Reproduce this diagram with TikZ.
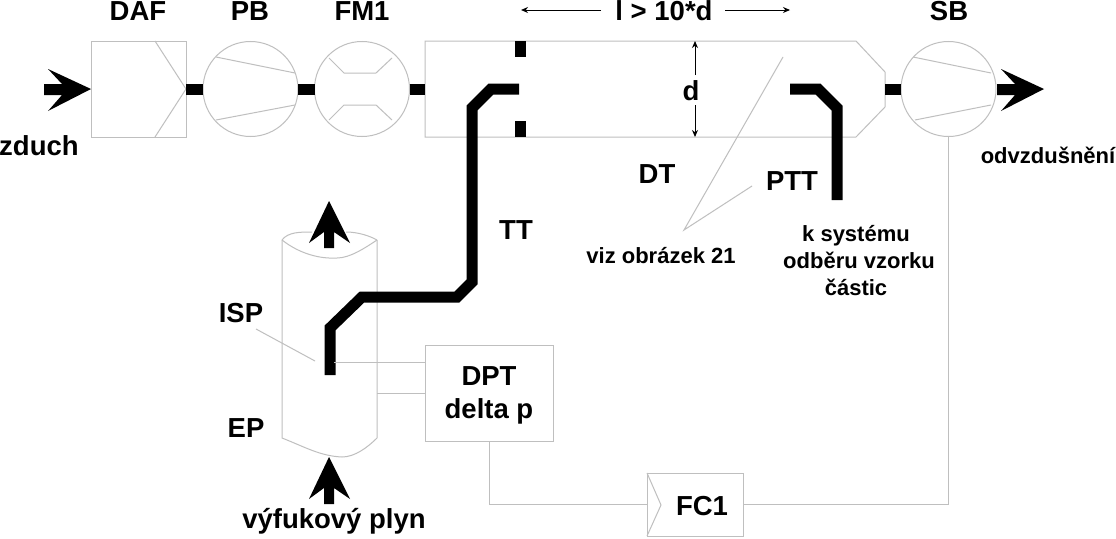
\documentclass[tikz,border=0pt]{standalone}
\usepackage{fontspec}
\setmainfont{Liberation Sans}
\tikzset{
  x=1pt,y=-1pt,
  thin gray/.style={draw=black!25,line width=1pt},
  unitbox/.style={thin gray,rectangle,inner sep=0,outer sep=0},
  blower/.style={thin gray,circle,inner sep=0,outer sep=0,minimum size=95pt},
  stub/.style={line width=11pt,black},
  pipe/.style={line width=11pt,black,line join=miter},
  flow/.style={fill=black,draw=none},
  lab/.style={anchor=base,inner sep=0,font=\bfseries\fontsize{27.5}{27.5}\selectfont},
  smalllab/.style={anchor=base,inner sep=0,font=\bfseries\fontsize{22}{22}\selectfont},
  dim/.style={line width=1pt,black,-{Stealth[length=7pt,width=6pt]}},
}
\usetikzlibrary{arrows.meta}
\begin{document}
\begin{tikzpicture}
\useasboundingbox (0,0) rectangle (1116,538);
\fill[white] (0,0) rectangle (1116,538);

% main line of units
\node[unitbox,minimum width=95pt,minimum height=96pt] (daf) at (138.5,89) {};
\node[blower] (pb) at (250.5,89) {};
\node[blower] (fm) at (362,89) {};
\node[blower] (sb) at (948.5,89) {};

% dilution tunnel outline with tapered outlet
\coordinate (dtw) at (425,89);
\coordinate (dte) at (885,89);
\draw[thin gray] (856,41) -- (425,41) -- (425,137) -- (856,137) -- (885,107) -- (885,72) -- cycle;

% internal lines of filter and blowers
\draw[thin gray] (155,41) -- (daf.east) -- (155,137);
\draw[thin gray] (216,57) -- (295,73) (216,120) -- (295,105);
\draw[thin gray] (329,58) -- (344,73) -- (376,73) -- (392,58)
                 (329,120) -- (344,105) -- (376,105) -- (392,120);
\draw[thin gray] (913,57) -- (991,73) (915,120) -- (991,105);

% short heavy couplings
\draw[stub] (daf.east) -- (pb.west);
\draw[stub] (pb.east) -- (fm.west);
\draw[stub] (fm.east) -- (dtw);
\draw[stub] (dte) -- (sb.west);

% mixing orifice marks
\fill[black] (515,41) rectangle (526,57);
\fill[black] (515,121) rectangle (526,137);

% flow arrows
\fill[flow] (44,84) -- (62,84) -- (48,69) -- (91,89) -- (48,111) -- (62,95) -- (44,95) -- cycle;
\fill[flow] (997,84) -- (1015,84) -- (1001,69) -- (1044,89) -- (1001,111) -- (1015,95) -- (997,95) -- cycle;
\fill[flow] (324,248) -- (324,232) -- (309,243) -- (329,201) -- (350,243) -- (334,232) -- (334,248) -- cycle;
\fill[flow] (324,504) -- (324,488) -- (309,499) -- (329,457) -- (350,499) -- (334,488) -- (334,504) -- cycle;

% exhaust pipe
\draw[thin gray] (282,240) .. controls (288,232) and (300,232) .. (312,232)
                 (346,232) .. controls (358,232) and (370,236) .. (377,240);
\draw[thin gray] (282,240) .. controls (300,254) and (320,259) .. (337,258)
                 .. controls (350,258) and (365,248) .. (377,240);
\draw[thin gray] (282,240) -- (282,438) .. controls (305,447) and (320,456) .. (342,457)
                 .. controls (355,457) and (368,447) .. (377,438) -- (377,240);

% transfer and particulate tubes
\coordinate (ispend) at (330,375);
\coordinate (ttend) at (519,89);
\coordinate (pttstart) at (790,89);
\coordinate (pttend) at (837,200);
\draw[pipe] (ispend) -- (330,328) -- (362,297) -- (457,297) -- (472,282) -- (472,108) -- (491,89) -- (ttend);
\draw[pipe] (pttstart) -- (818,89) -- (837,108) -- (pttend);

% pressure transducer and flow controller
\node[unitbox,minimum width=128pt,minimum height=96pt] (dpt) at (489,393) {};
\node[unitbox,minimum width=96pt,minimum height=63pt] (fc) at (695,504.5) {};
\draw[thin gray] (fc.north west) -- (661,505) -- (fc.south west);
\coordinate (tap1) at (334,362);
\coordinate (tap2) at (377,393);
\draw[thin gray] (tap1) -- (tap1 -| dpt.west);
\draw[thin gray] (tap2) -- (tap2 -| dpt.west);
\draw[thin gray] (dpt.south) |- (fc.west);
\draw[thin gray] (fc.east) -| (sb.south);

% leader lines
\draw[thin gray] (256,329) -- (315,361);
\draw[thin gray] (783,57) -- (684,230) -- (752,186);

% dimension arrows
\coordinate (lmid) at (664,10);
\draw[dim] (601,10) -- (521,10);
\draw[dim] (725,10) -- (790,10);
\draw[dim] (695,75) -- (695,41);
\draw[dim] (695,105) -- (695,137);

% labels
\node[lab] (tdaf) at (138,20) {DAF};
\node[lab] (tpb) at (250,20) {PB};
\node[lab] (tfm) at (362,20) {FM1};
\node[lab] (tsb) at (949,20) {SB};
\node[lab] (tl) at (lmid |- 0,20) {l > 10*d};
\node[lab] (td) at (691,100) {d};
\node[lab,anchor=base west] (tin) at (-1,155) {zduch};
\node[smalllab] (tout) at (1048,163) {odvzdušnění};
\node[lab] (tdt) at (657,183) {DT};
\node[lab] (tptt) at (792,190) {PTT};
\node[lab] (ttt) at (516,239) {TT};
\node[smalllab] (tviz) at (661,263) {viz obrázek 21};
\node[smalllab] (ts1) at (856,241) {k systému};
\node[smalllab] (ts2) at (859,268) {odběru vzorku};
\node[smalllab] (ts3) at (856,295) {částic};
\node[lab] (tisp) at (241,322) {ISP};
\node[lab] (tep) at (246,437) {EP};
\node[lab] (tdpt) at (489,385) {DPT};
\node[lab] (tdelta) at (489,418) {delta p};
\node[lab] (tfc) at (702,515) {FC1};
\node[lab] (tex) at (334,528) {výfukový plyn};
\end{tikzpicture}
\end{document}
